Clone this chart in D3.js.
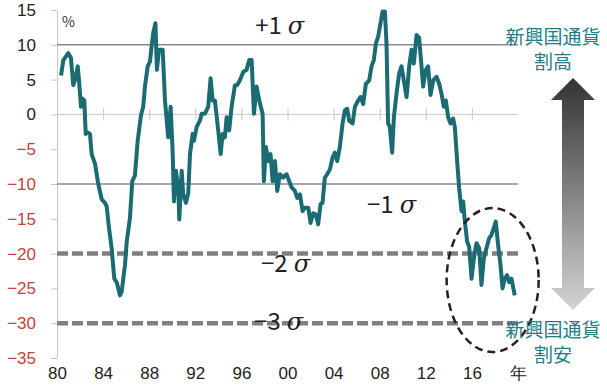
<!DOCTYPE html>
<html>
<head>
<meta charset="utf-8">
<script src="https://cdn.jsdelivr.net/npm/d3@7"></script>
<style>
  body { margin: 0; background: #fff; }
  svg { font-family: "Noto Sans CJK JP", "Noto Sans", sans-serif; }
</style>
</head>
<body>
<script>
const w = 607;
const h = 389;

// data (year, % deviation)
const years = [
  1980.35, 1980.55, 1980.98, 1981.21, 1981.41, 1981.56, 1981.8, 1981.91, 1982.08, 1982.19,
  1982.37, 1982.49, 1982.66, 1982.86, 1983.01, 1983.3, 1983.58, 1983.88, 1984.16, 1984.31,
  1984.51, 1984.74, 1984.97, 1985.18, 1985.46, 1985.61, 1985.9, 1986.05, 1986.33, 1986.53,
  1986.76, 1987.0, 1987.29, 1987.48, 1987.63, 1987.87, 1988.07, 1988.21, 1988.35, 1988.54,
  1988.67, 1988.85, 1989.17, 1989.37, 1989.65, 1989.86, 1990.03, 1990.15, 1990.32, 1990.52,
  1990.61, 1990.82, 1990.95, 1991.19, 1991.39, 1991.54, 1991.77, 1991.88, 1992.12, 1992.4,
  1992.55, 1992.84, 1993.12, 1993.33, 1993.5, 1993.7, 1993.99, 1994.2, 1994.37, 1994.57,
  1994.72, 1994.94, 1995.15, 1995.44, 1995.64, 1995.87, 1996.16, 1996.45, 1996.68, 1996.89,
  1997.09, 1997.32, 1997.55, 1997.84, 1997.95, 1998.13, 1998.33, 1998.53, 1998.71, 1998.91,
  1999.11, 1999.34, 1999.63, 1999.92, 2000.15, 2000.36, 2000.64, 2000.84, 2001.08, 2001.31,
  2001.51, 2001.8, 2002.0, 2002.23, 2002.46, 2002.66, 2002.87, 2003.04, 2003.24, 2003.44,
  2003.68, 2003.91, 2004.11, 2004.31, 2004.54, 2004.78, 2004.98, 2005.18, 2005.35, 2005.65,
  2005.85, 2006.13, 2006.34, 2006.57, 2006.8, 2007.09, 2007.29, 2007.49, 2007.67, 2007.87,
  2008.07, 2008.25, 2008.45, 2008.59, 2008.73, 2008.88, 2009.08, 2009.23, 2009.46, 2009.69,
  2009.89, 2010.09, 2010.33, 2010.56, 2010.76, 2010.96, 2011.2, 2011.42, 2011.63, 2011.77,
  2012.0, 2012.2, 2012.41, 2012.64, 2012.93, 2013.16, 2013.36, 2013.56, 2013.74, 2013.94,
  2014.15, 2014.37, 2014.52, 2014.72, 2014.89, 2015.1, 2015.24, 2015.39, 2015.59, 2015.76,
  2015.97, 2016.17, 2016.4, 2016.63, 2016.83, 2017.03, 2017.27, 2017.49, 2017.7, 2017.9,
  2018.07, 2018.27, 2018.48, 2018.66, 2018.85, 2019.05, 2019.23, 2019.43, 2019.72
];
const values = [
  5.6, 7.8, 8.8, 8.1, 4.2, 4.9, 6.9, 4.9, 1.1, 2.3,
  2.0, -2.8, -2.6, -2.8, -5.7, -7.1, -10, -12.2, -12.7, -13.2,
  -16.3, -19.2, -23.6, -24.1, -26, -25.5, -21.6, -18.3, -14.9, -9.6,
  -8.8, -3.8, -0.1, 1.1, 4.0, 6.9, 7.6, 9.8, 11.7, 13.1,
  6.4, 9.3, 9.3, 2.0, -3.3, 1.1, -5.2, -12.5, -8.1, -10.5,
  -15.1, -8.1, -11.5, -12.7, -11.3, -5.7, -2.8, -3.8, -1.8, -0.9,
  0.1, 0.1, 1.1, 5.2, 2.0, 2.0, -2.3, -5.7, -2.8, -3.3,
  -0.4, -2.3, 1.1, 4.2, 4.2, 4.9, 6.1, 6.4, 7.8, 7.8,
  0.1, 4.0, 2.0, 0.1, -9.6, -4.7, -6.7, -5.7, -9.6, -6.7,
  -11, -8.6, -9.1, -8.6, -9.6, -10.5, -11, -12, -11.5, -13.9,
  -13.4, -13.4, -15.6, -14.2, -14.4, -15.8, -12.9, -12.7, -9.1, -8.6,
  -7.9, -6.2, -5.5, -6.7, -4.7, -1.3, 0.6, 0.8, -0.9, -1.3,
  1.1, 2.0, 2.5, 1.5, 4.4, 4.9, 6.9, 7.8, 10.2, 11.2,
  13.1, 14.8, 14.8, 10.2, -1.3, -1.8, -5.5, -0.4, 3.0, 5.9,
  6.9, 4.9, 2.5, 6.9, 9.3, 7.3, 11.4, 11.0, 6.9, 4.0,
  6.4, 6.9, 2.8, 4.9, 5.4, 4.4, 3.0, 1.1, 2.0, -0.4,
  -1.3, -0.6, -1.8, -6.7, -10.5, -13.9, -12.5, -15.4, -18.3, -19,
  -23.6, -20.7, -18.5, -19.2, -24.5, -20.7, -19.2, -17.8, -17.3, -16.3,
  -15.4, -18.7, -21.6, -25, -23.6, -23.1, -24.1, -23.6, -26
];

const yTicks = [15, 10, 5, 0, -5, -10, -15, -20, -25, -30, -35];
const xTicks = [1980, 1984, 1988, 1992, 1996, 2000, 2004, 2008, 2012, 2016, 2020];
const xTickLabels = ["80", "84", "88", "92", "96", "00", "04", "08", "12", "16", "年"];

const sigmaSolid = [10, -10];      // +1σ, -1σ
const sigmaDashed = [-20, -30];    // -2σ, -3σ
const sigmaLabels = [
  { sign: "+1", v: 10, x: 1997.2, dy: -11 },
  { sign: "\u22121", v: -10, x: 2006.9, dy: 29 },
  { sign: "\u22122", v: -20, x: 1997.7, dy: 18 },
  { sign: "\u22123", v: -30, x: 1997.1, dy: 7 }
];

const noteTop = ["新興国通貨", "割高"];
const noteBottom = ["新興国通貨", "割安"];

const data = years.map((yr, i) => ({ year: yr, value: values[i] }));

let svg = d3.select("body")
  .append("svg")
  .attr("width", w)
  .attr("height", h);

const x = d3.scaleLinear()
  .domain([1980, 2020])
  .range([57, 518]);
const y = d3.scaleLinear()
  .domain([15, -35])
  .range([10, 358]);

// y axis
const yAxis = svg.append("g")
  .attr("transform", "translate(57,0)")
  .call(d3.axisLeft(y).tickValues(yTicks).tickSize(6).tickPadding(15).tickSizeOuter(0));
yAxis.select(".domain").attr("stroke", "#c8c8c8");
yAxis.selectAll(".tick line").attr("stroke", "#c8c8c8");
yAxis.selectAll(".tick text")
  .attr("font-size", 17)
  .attr("fill", (d) => d < 0 ? "#c8413b" : "#222");

// zero line with ticks crossing it
const xAxis = svg.append("g")
  .attr("transform", "translate(0," + y(0) + ")")
  .call(d3.axisBottom(x).tickValues(xTicks.slice(1, 10)).tickSizeOuter(0).tickFormat(""));
xAxis.select(".domain").attr("stroke", "#c8c8c8").attr("d", "M57,0H518");
xAxis.selectAll(".tick line").attr("stroke", "#c8c8c8").attr("y1", -6).attr("y2", 6);

// bottom labels
const xLab = svg.append("g")
  .attr("transform", "translate(0,358)")
  .call(d3.axisBottom(x).tickValues(xTicks).tickSize(0).tickPadding(9)
    .tickFormat((d, i) => xTickLabels[i]));
xLab.select(".domain").remove();
xLab.selectAll(".tick text").attr("font-size", 17).attr("fill", "#222");

// sigma lines
svg.selectAll(".sig1")
  .data(sigmaSolid)
  .enter()
  .append("line")
  .attr("x1", x(1980)).attr("x2", x(2020))
  .attr("y1", (d) => y(d)).attr("y2", (d) => y(d))
  .attr("stroke", "#8a8a8a")
  .attr("stroke-width", 1.5);

svg.selectAll(".sig2")
  .data(sigmaDashed)
  .enter()
  .append("line")
  .attr("x1", x(1980)).attr("x2", x(2020))
  .attr("y1", (d) => y(d)).attr("y2", (d) => y(d))
  .attr("stroke", "#808080")
  .attr("stroke-width", 4.5)
  .attr("stroke-dasharray", "11,4");

// "%" unit
svg.append("text")
  .attr("x", 62).attr("y", 27)
  .attr("font-size", 14)
  .attr("fill", "#333")
  .text("%");

// the series
const line = d3.line()
  .x((d) => x(d.year))
  .y((d) => y(d.value));

svg.append("path")
  .datum(data)
  .attr("d", line)
  .attr("fill", "none")
  .attr("stroke", "#1b6b72")
  .attr("stroke-width", 4)
  .attr("stroke-linejoin", "round");

// sigma labels
const sl = svg.selectAll(".slab")
  .data(sigmaLabels)
  .enter()
  .append("text")
  .attr("x", (d) => x(d.x))
  .attr("y", (d) => y(d.v) + d.dy)
  .attr("font-size", 24)
  .attr("fill", "#222");
sl.append("tspan").text((d) => d.sign);
sl.append("tspan").attr("dx", 6).attr("font-family", "DejaVu Serif").attr("font-style", "italic").text("σ");

// dashed ellipse round the latest values
svg.append("ellipse")
  .attr("cx", x(2017.8)).attr("cy", y(-23.8))
  .attr("rx", 46).attr("ry", 72)
  .attr("fill", "none")
  .attr("stroke", "#222")
  .attr("stroke-width", 2.5)
  .attr("stroke-dasharray", "8,5");

// gradient double arrow
const defs = svg.append("defs");
const grad = defs.append("linearGradient")
  .attr("id", "arrowGrad")
  .attr("x1", 0).attr("y1", 0).attr("x2", 0).attr("y2", 1);
grad.append("stop").attr("offset", "0%").attr("stop-color", "#333");
grad.append("stop").attr("offset", "100%").attr("stop-color", "#d4d4d4");

const ax = 573, aTop = 78, aBot = 310, hw = 22, sw = 11, hl = 22;
svg.append("path")
  .attr("d", "M" + ax + "," + aTop +
    "L" + (ax + hw) + "," + (aTop + hl) +
    "L" + (ax + sw) + "," + (aTop + hl) +
    "L" + (ax + sw) + "," + (aBot - hl) +
    "L" + (ax + hw) + "," + (aBot - hl) +
    "L" + ax + "," + aBot +
    "L" + (ax - hw) + "," + (aBot - hl) +
    "L" + (ax - sw) + "," + (aBot - hl) +
    "L" + (ax - sw) + "," + (aTop + hl) +
    "L" + (ax - hw) + "," + (aTop + hl) + "Z")
  .attr("fill", "url(#arrowGrad)");

// notes
svg.selectAll(".nt")
  .data(noteTop)
  .enter()
  .append("text")
  .attr("x", 553)
  .attr("y", (d, i) => 44 + i * 25)
  .attr("text-anchor", "middle")
  .attr("font-size", 19)
  .attr("fill", "#237c83")
  .text((d) => d);

svg.selectAll(".nb")
  .data(noteBottom)
  .enter()
  .append("text")
  .attr("x", 553)
  .attr("y", (d, i) => 337 + i * 25)
  .attr("text-anchor", "middle")
  .attr("font-size", 19)
  .attr("fill", "#237c83")
  .text((d) => d);
</script>
</body>
</html>
